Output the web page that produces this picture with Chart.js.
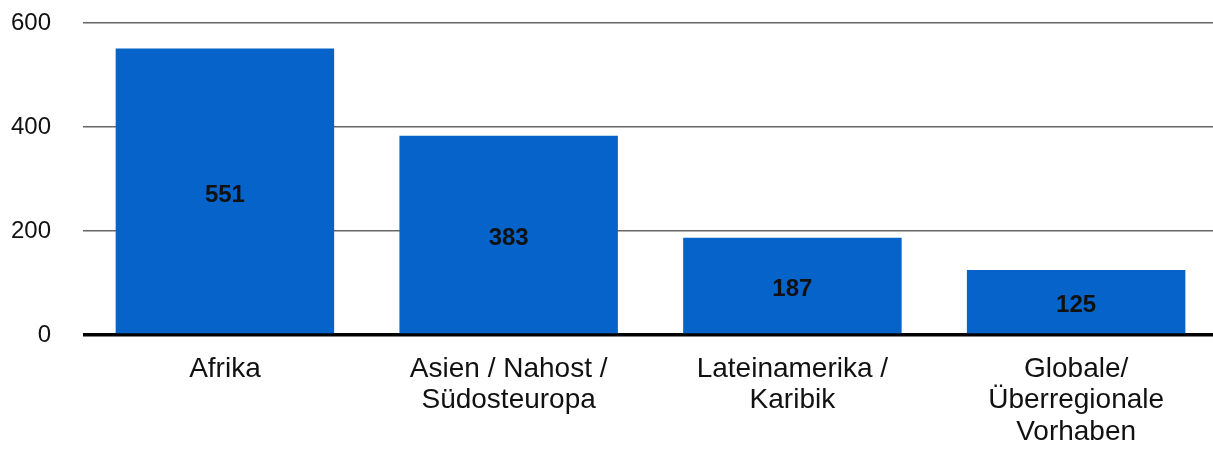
<!DOCTYPE html>
<html>
<head>
<meta charset="utf-8">
<script src="https://cdn.jsdelivr.net/npm/chart.js@4.4.1/dist/chart.umd.min.js"></script>
<style>
  html, body { margin: 0; padding: 0; background: #fff; overflow: hidden; }
  #wrap { width: 1218px; height: 449px; }
</style>
</head>
<body>
<div id="wrap"><canvas id="chartRegion"></canvas></div>
<script>
const regions = [
    ["Afrika"],
    ["Asien / Nahost /", "Südosteuropa"],
    ["Lateinamerika /", "Karibik"],
    ["Globale/", "Überregionale", "Vorhaben"],
];
const projects = [551, 383, 187, 125];
const yTicks = [0, 200, 400, 600];

// Werte mittig in die Balken schreiben
const barValues = {
    id: "barValues",
    afterDatasetsDraw(chart) {
        const ctx = chart.ctx;
        ctx.save();
        ctx.font = "bold 24px 'Liberation Sans', Arial, sans-serif";
        ctx.fillStyle = "#111";
        ctx.textAlign = "center";
        ctx.textBaseline = "middle";
        chart.getDatasetMeta(0).data.forEach(function (bar, i) {
            ctx.fillText(projects[i], bar.x, (bar.y + bar.base) / 2 + 4);
        });
        ctx.restore();
    },
};

var region = document.getElementById("chartRegion").getContext("2d");
var chartRegion = new Chart(region, {
    type: "bar",
    data: {
        labels: regions,
        datasets: [
            {
                data: projects,
                backgroundColor: "#0563C9",
                borderWidth: 0,
                barPercentage: 0.77,
                categoryPercentage: 1,
            },
        ],
    },
    options: {
        responsive: true,
        maintainAspectRatio: false,
        animation: false,
        layout: { padding: { top: 23, left: 8, right: 0, bottom: -2 } },
        plugins: {
            legend: { display: false },
            tooltip: { enabled: false },
        },
        scales: {
            x: {
                grid: {
                    display: true,
                    drawOnChartArea: false,
                    drawTicks: true,
                    tickLength: 15,
                    tickColor: "rgba(0,0,0,0)",
                    color: "rgba(0,0,0,0)",
                },
                border: { display: false },
                ticks: {
                    color: "#111",
                    padding: 3,
                    maxRotation: 0,
                    autoSkip: false,
                    font: { family: "'Liberation Sans', Arial, sans-serif", size: 28, lineHeight: 1.13 },
                },
            },
            y: {
                min: 0,
                max: 600,
                afterBuildTicks: function (axis) {
                    axis.ticks = yTicks.map(v => ({ value: v }));
                },
                grid: {
                    drawTicks: true,
                    tickLength: 29,
                    tickColor: "rgba(0,0,0,0)",
                    color: ctx => (ctx.tick && ctx.tick.value === 0 ? "#000" : "#666"),
                    lineWidth: ctx => (ctx.tick && ctx.tick.value === 0 ? 3.5 : 1.5),
                },
                border: { display: false },
                ticks: {
                    color: "#111",
                    padding: 3,
                    font: { family: "'Liberation Sans', Arial, sans-serif", size: 24 },
                },
            },
        },
    },
    plugins: [barValues],
});
</script>
</body>
</html>
